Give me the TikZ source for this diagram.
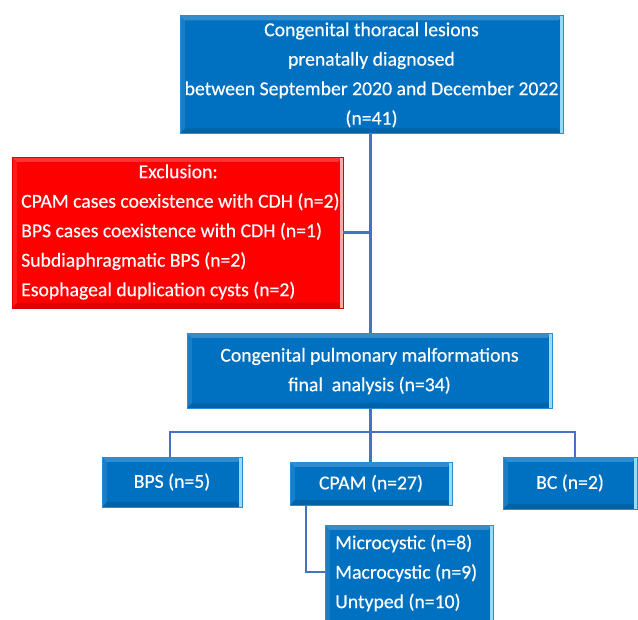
\documentclass[tikz,border=0pt]{standalone}
\usepackage{fontspec}
\setmainfont{Carlito}
\newfontfamily\heavyfont{Carlito}[FakeBold=0.35]
\definecolor{boxblue}{RGB}{0,112,192}
\definecolor{edgeblue}{RGB}{40,140,215}
\definecolor{lightedge}{RGB}{150,220,250}
\definecolor{pinkedge}{RGB}{255,170,170}
\definecolor{linkblue}{RGB}{68,114,196}
\definecolor{boxred}{RGB}{255,0,0}
\begin{document}
\begin{tikzpicture}[x=1pt,y=-1pt,
  bevel/.style={path picture={
    \fill[white,opacity=0.2] (path picture bounding box.north west) -- (path picture bounding box.north east)
      -- ([xshift=-5pt,yshift=-5pt]path picture bounding box.north east) -- ([xshift=5pt,yshift=-5pt]path picture bounding box.north west) -- cycle;
    \fill[white,opacity=0.1] (path picture bounding box.north west) -- ([xshift=5pt,yshift=-5pt]path picture bounding box.north west)
      -- ([xshift=5pt,yshift=5pt]path picture bounding box.south west) -- (path picture bounding box.south west) -- cycle;
    \fill[black,opacity=0.12] (path picture bounding box.south west) -- (path picture bounding box.south east)
      -- ([xshift=-5pt,yshift=5pt]path picture bounding box.south east) -- ([xshift=5pt,yshift=5pt]path picture bounding box.south west) -- cycle;
    \fill[#1] ([xshift=-3pt]path picture bounding box.north east) rectangle (path picture bounding box.south east);
  }},
  txt/.style={text=white, font=\heavyfont\fontsize{19.7}{29.5}\selectfont},
  bluebox/.style={draw=edgeblue, line width=0.8pt, fill=boxblue, bevel=lightedge, inner sep=0pt, txt},
  redbox/.style={draw=boxred!85!black, line width=0.8pt, fill=boxred, bevel=pinkedge, inner sep=0pt},
  link/.style={draw=linkblue, line width=2.6pt}
]
\useasboundingbox (0,0) rectangle (638,620);
\begin{scope}
\clip (0,0) rectangle (638,620);
\node[bluebox, minimum width=383pt, minimum height=115pt, align=center] (top) at (371.5,74.5)
  {\raisebox{3.5pt}{\begin{tabular}{@{}c@{}}Congenital thoracal lesions\\prenatally diagnosed\\between September 2020 and December 2022\\(n=41)\end{tabular}}};
\node[redbox, minimum width=331pt, minimum height=151pt] (excl) at (177.5,232.5) {};
\node[txt, align=left, anchor=west, inner sep=0pt] (excltext) at (21,232)
  {\makebox[314pt][c]{Exclusion:}\\CPAM cases coexistence with CDH (n=2)\\BPS cases coexistence with CDH (n=1)\\Subdiaphragmatic BPS (n=2)\\Esophageal duplication cysts (n=2)};
\node[bluebox, minimum width=365pt, minimum height=75pt, align=center] (mid) at (369.5,370.5)
  {\raisebox{3.5pt}{\begin{tabular}{@{}c@{}}Congenital pulmonary malformations\\final\ \ analysis (n=34)\end{tabular}}};
\node[bluebox, minimum width=140pt, minimum height=50pt] (bps) at (172,482) {BPS (n=5)};
\node[bluebox, minimum width=162pt, minimum height=43pt] (cpam) at (371,483.5) {CPAM (n=27)};
\node[bluebox, minimum width=134pt, minimum height=52pt] (bc) at (570,483) {BC (n=2)};
\node[bluebox, minimum width=168pt, minimum height=100pt] (sub) at (409,575) {};
\node[txt, align=left, anchor=west, inner sep=0pt] (subtext) at (335,573)
  {Microcystic (n=8)\\Macrocystic (n=9)\\Untyped (n=10)};
\end{scope}
\coordinate (sp) at (370.5,0);
\coordinate (hy) at (0,432);
\coordinate (c1) at (306,0);
\draw[link] (top.south -| sp) -- (mid.north -| sp);
\draw[link] (excl.east) -- (excl.east -| sp);
\draw[link] (mid.south -| sp) -- (hy -| sp);
\draw[link] (bps.north -| 170,0) -- (hy -| 170,0) -- (hy -| 575,0) -- (bc.north -| 575,0);
\draw[link] (hy -| sp) -- (cpam.north -| sp);
\draw[link] (cpam.south -| c1) |- (sub.west |- 0,572);
\end{tikzpicture}
\end{document}
